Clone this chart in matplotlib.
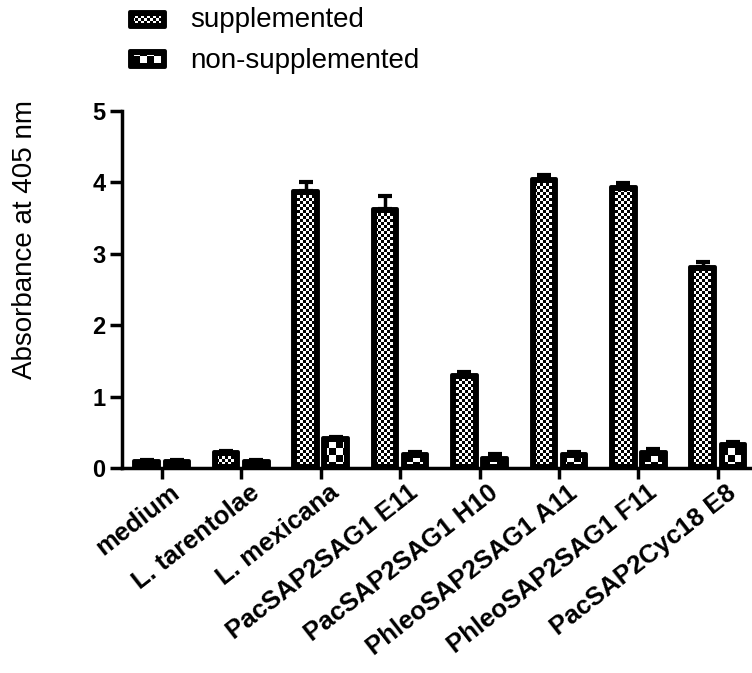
import numpy as np
import matplotlib
matplotlib.use("Agg")
import matplotlib.pyplot as plt
from matplotlib.path import Path
from matplotlib.patches import Rectangle
from matplotlib.transforms import IdentityTransform, Affine2D, ScaledTranslation

plt.rcParams['font.family'] = ['Liberation Sans', 'DejaVu Sans']

groups = ["medium", "L. tarentolae", "L. mexicana", "PacSAP2SAG1 E11",
          "PacSAP2SAG1 H10", "PhleoSAP2SAG1 A11", "PhleoSAP2SAG1 F11",
          "PacSAP2Cyc18 E8"]
supplemented = [0.10, 0.22, 3.88, 3.63, 1.30, 4.05, 3.94, 2.82]
supplemented_err = [0.01, 0.02, 0.12, 0.18, 0.05, 0.06, 0.05, 0.07]
non_supplemented = [0.10, 0.10, 0.42, 0.20, 0.14, 0.20, 0.23, 0.33]
non_supplemented_err = [0.01, 0.01, 0.01, 0.02, 0.05, 0.02, 0.03, 0.04]
series_names = ["supplemented", "non-supplemented"]

W, H = 752, 673
fig = plt.figure(figsize=(W / 100, H / 100), dpi=100)
ax = fig.add_axes([122 / W, 1 - 468 / H, 1 - 122 / W, (468 - 111) / H])

x = np.arange(len(groups))
width = 0.31
off = 0.19
lw = 2.8

bars_s = ax.bar(x - off, supplemented, width, color='black', edgecolor='black',
                linewidth=lw, joinstyle='round', zorder=2)
bars_n = ax.bar(x + off, non_supplemented, width, color='black', edgecolor='black',
                linewidth=lw, joinstyle='round', zorder=2)
ax.errorbar(x - off, supplemented, yerr=[np.zeros(len(x)), supplemented_err],
            fmt='none', ecolor='black', elinewidth=2.5, capsize=5, capthick=3, zorder=1)
ax.errorbar(x + off, non_supplemented, yerr=[np.zeros(len(x)), non_supplemented_err],
            fmt='none', ecolor='black', elinewidth=2.5, capsize=5, capthick=3, zorder=1)

ax.set_xlim(-0.5, 7.43)
ax.set_ylim(0, 5)
ax.set_yticks([0, 1, 2, 3, 4, 5])
ax.set_xticks(x)
ax.set_xticklabels(groups, rotation=38, ha='right', va='top', rotation_mode='anchor',
                   fontsize=18.5, fontweight='bold')
ax.set_yticklabels([str(v) for v in range(6)], fontsize=17, fontweight='bold')
ax.tick_params(axis='y', length=9, width=2.5, pad=3)
ax.tick_params(axis='x', length=8, width=2.5, pad=1)
shift = ScaledTranslation(0.08, 0, fig.dpi_scale_trans)
for lab in ax.get_xticklabels():
    lab.set_transform(lab.get_transform() + shift)
for s in ['top', 'right']:
    ax.spines[s].set_visible(False)
ax.spines['left'].set_linewidth(2.5)
ax.spines['bottom'].set_linewidth(2.5)
ax.set_ylabel("Absorbance at 405 nm", fontsize=20)
ax.yaxis.set_label_coords(-0.134, 0.64)


def checker(cell):
    yy, xx = np.mgrid[0:H, 0:W]
    on = ((yy // cell + xx // cell) % 2) == 0
    img = np.zeros((H, W, 4))
    img[on] = [1, 1, 1, 1]
    return img


def inner_path(extents, inset):
    rects = []
    for x0, y0, x1, y1 in extents:
        if x1 - x0 <= 2 * inset or y1 - y0 <= 2 * inset:
            continue
        rects.append(Path.unit_rectangle().transformed(
            Affine2D().scale(x1 - x0 - 2 * inset, y1 - y0 - 2 * inset)
            .translate(x0 + inset, y0 + inset)))
    return Path.make_compound_path(*rects)


# legend handles in display pixels (y from bottom)
leg_boxes = [(130, H - 27, 165, H - 12), (130, H - 67, 165, H - 51)]
for (x0, y0, x1, y1) in leg_boxes:
    fig.add_artist(Rectangle((x0, y0), x1 - x0, y1 - y0, facecolor='black',
                             edgecolor='black', linewidth=lw, joinstyle='round',
                             transform=IdentityTransform()))
fig.text(190 / W, 1 - 27 / H, series_names[0], fontsize=20, va='baseline')
fig.text(190 / W, 1 - 68 / H, series_names[1], fontsize=20, va='baseline')

ext_s = [tuple(b.get_window_extent().extents) for b in bars_s] + [leg_boxes[0]]
ext_n = [tuple(b.get_window_extent().extents) for b in bars_n] + [leg_boxes[1]]

im_s = fig.figimage(checker(3), zorder=5)
im_s.set_clip_path(inner_path(ext_s, 4), IdentityTransform())
im_n = fig.figimage(checker(7), zorder=5)
im_n.set_clip_path(inner_path(ext_n, 4), IdentityTransform())

fig.savefig("out.png", dpi=100)
